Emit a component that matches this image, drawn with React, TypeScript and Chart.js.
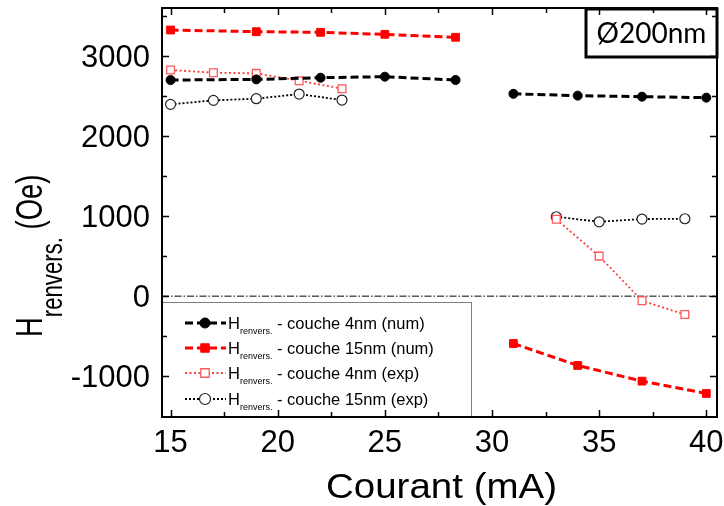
import React, { useEffect, useRef } from 'react';
import { Chart, registerables } from 'chart.js';
Chart.register(...registerables);

// ---- data ----
const seriesLabels = ['couche 4nm (num)', 'couche 15nm (num)', 'couche 4nm (exp)', 'couche 15nm (exp)'];
const currentNum = [15, 19, 22, 25, 28.3, 29.6, 31, 34, 37, 40];
const hRev4Num = [2700, 2708, 2729, 2742, 2700, null, 2528, 2505, 2492, 2480];
const hRev15Num = [3325, 3304, 3296, 3271, 3234, null, -592, -866, -1062, -1216];
const currentExp = [15, 17, 19, 21, 23, 28, 33, 35, 37, 39];
const hRev4Exp = [2825, 2792, 2783, 2692, 2592, null, 960, 500, -58, -229];
const hRev15Exp = [2396, 2446, 2467, 2525, 2450, null, 992, 929, 963, 967];
const xMajorTicks = [15, 20, 25, 30, 35, 40];
const xMinorTicks = [17.5, 22.5, 27.5, 32.5, 37.5];
const yMajorTicks = [-1000, 0, 1000, 2000, 3000];
const yMinorTicks = [-500, 500, 1500, 2500, 3500];
const xTitle = 'Courant (mA)';
const yTitleMain = 'H';
const yTitleSub = 'renvers.';
const yTitleUnit = ' (Oe)';
const annotation = 'Ø200nm';

const FONT = '"Liberation Sans", Arial, sans-serif';

const pts = (xs: number[], ys: (number | null)[]) => xs.map((x, i) => ({ x, y: ys[i] }));

const styles = [
  { color: '#000000', width: 3, dash: [8, 4], shape: 'circle', r: 4.5, fill: '#000000', pborder: '#000000', pbw: 1 },
  { color: '#ff0000', width: 3, dash: [8, 4], shape: 'rect', r: 5.5, fill: '#ff0000', pborder: '#ff0000', pbw: 1 },
  { color: '#ff3b3b', width: 1.8, dash: [2, 2.5], shape: 'rect', r: 5.5, fill: '#ffffff', pborder: '#ff5a5a', pbw: 1.3 },
  { color: '#000000', width: 1.8, dash: [2, 2], shape: 'circle', r: 5, fill: '#ffffff', pborder: '#222222', pbw: 1.2 },
];

function drawMarker(ctx: CanvasRenderingContext2D, st: any, x: number, y: number, r: number) {
  ctx.save();
  ctx.setLineDash([]);
  ctx.fillStyle = st.fill;
  ctx.strokeStyle = st.pborder;
  ctx.lineWidth = st.pbw;
  ctx.beginPath();
  if (st.shape === 'circle') {
    ctx.arc(x, y, r, 0, Math.PI * 2);
  } else {
    const s = r * Math.SQRT1_2;
    ctx.rect(x - s, y - s, 2 * s, 2 * s);
  }
  ctx.fill();
  ctx.stroke();
  ctx.restore();
}

const customPlugin = {
  id: 'customFrame',
  beforeDatasetsDraw(chart: any) {
    const { ctx, chartArea, scales } = chart;
    const y0 = scales.y.getPixelForValue(0);
    ctx.save();
    ctx.strokeStyle = '#000';
    ctx.lineWidth = 1;
    ctx.setLineDash([7, 2, 1.5, 2]);
    ctx.beginPath();
    ctx.moveTo(chartArea.left, y0);
    ctx.lineTo(chartArea.right, y0);
    ctx.stroke();
    ctx.restore();
  },
  afterDraw(chart: any) {
    const { ctx, chartArea, scales } = chart;
    const { left, right, top, bottom } = chartArea;
    const xs = scales.x;
    const ys = scales.y;
    ctx.save();

    // legend
    const lgX = left, lgY = 302, lgW = 309, lgH = bottom - 302;
    ctx.fillStyle = '#ffffff';
    ctx.fillRect(lgX, lgY, lgW, lgH);
    ctx.strokeStyle = '#808080';
    ctx.lineWidth = 1;
    ctx.strokeRect(lgX + 0.5, lgY + 0.5, lgW, lgH);
    const rows = [323, 348, 373, 399];
    seriesLabels.forEach((lab, i) => {
      const st = styles[i];
      const ry = rows[i];
      ctx.save();
      ctx.strokeStyle = st.color;
      ctx.lineWidth = st.width;
      ctx.setLineDash(st.dash);
      ctx.beginPath();
      ctx.moveTo(185, ry);
      ctx.lineTo(226, ry);
      ctx.stroke();
      ctx.restore();
      drawMarker(ctx, st, 205, ry, st.r + 0.5);
      ctx.fillStyle = '#000';
      ctx.textAlign = 'left';
      ctx.textBaseline = 'alphabetic';
      ctx.font = `16.5px ${FONT}`;
      let tx = 228;
      ctx.fillText('H', tx, ry + 6);
      tx += ctx.measureText('H').width;
      ctx.font = `9px ${FONT}`;
      ctx.fillText('renvers.', tx, ry + 11);
      tx += ctx.measureText('renvers.').width;
      ctx.font = `16.5px ${FONT}`;
      ctx.fillText(' - ' + lab, tx, ry + 6);
    });

    // frame
    ctx.strokeStyle = '#000';
    ctx.lineWidth = 2;
    ctx.setLineDash([]);
    ctx.strokeRect(left, top, right - left, bottom - top);

    const majorLen = 7, minorLen = 5;
    ctx.lineWidth = 1.5;
    const xt = (v: number, len: number) => {
      const px = Math.round(xs.getPixelForValue(v)) + 0.5;
      ctx.beginPath();
      ctx.moveTo(px, bottom); ctx.lineTo(px, bottom - len);
      ctx.moveTo(px, top); ctx.lineTo(px, top + len);
      ctx.stroke();
    };
    const yt = (v: number, len: number) => {
      const py = Math.round(ys.getPixelForValue(v)) + 0.5;
      ctx.beginPath();
      ctx.moveTo(left, py); ctx.lineTo(left + len, py);
      ctx.moveTo(right, py); ctx.lineTo(right - len, py);
      ctx.stroke();
    };
    xMajorTicks.forEach(v => xt(v, majorLen));
    xMinorTicks.forEach(v => xt(v, minorLen));
    yMajorTicks.forEach(v => yt(v, majorLen));
    yMinorTicks.forEach(v => yt(v, minorLen));

    // tick labels
    ctx.fillStyle = '#000';
    ctx.font = `31px ${FONT}`;
    ctx.textAlign = 'center';
    ctx.textBaseline = 'alphabetic';
    xMajorTicks.forEach(v => ctx.fillText(String(v), xs.getPixelForValue(v), 452));
    ctx.textAlign = 'right';
    yMajorTicks.forEach(v => ctx.fillText(String(v), left - 12, ys.getPixelForValue(v) + 11));

    // x title
    ctx.save();
    ctx.font = `35px ${FONT}`;
    ctx.textAlign = 'center';
    ctx.translate((left + right) / 2 + 2, 498);
    ctx.scale(1.1, 1);
    ctx.fillText(xTitle, 0, 0);
    ctx.restore();

    // y title
    ctx.save();
    ctx.translate(42, 337);
    ctx.rotate(-Math.PI / 2);
    ctx.scale(0.74, 1);
    ctx.textAlign = 'left';
    ctx.font = `37px ${FONT}`;
    let ytx = 0;
    ctx.fillText(yTitleMain, ytx, 0);
    ytx += ctx.measureText(yTitleMain).width;
    ctx.font = `30px ${FONT}`;
    ctx.fillText(yTitleSub, ytx, 20);
    ytx += ctx.measureText(yTitleSub).width;
    ctx.font = `37px ${FONT}`;
    ctx.fillText(yTitleUnit, ytx, 0);
    ctx.restore();

    // annotation box
    ctx.lineWidth = 3;
    ctx.strokeStyle = '#000';
    ctx.strokeRect(586, top + 1, right - 586, 48);
    ctx.font = '28px Lato, "Open Sans", sans-serif';
    ctx.textAlign = 'center';
    ctx.textBaseline = 'middle';
    ctx.fillText(annotation, (586 + right) / 2, 34);

    ctx.restore();
  },
};

export default function App() {
  const ref = useRef<HTMLCanvasElement>(null);
  useEffect(() => {
    if (!ref.current) return;
    const dataSets = [
      pts(currentNum, hRev4Num),
      pts(currentNum, hRev15Num),
      pts(currentExp, hRev4Exp),
      pts(currentExp, hRev15Exp),
    ];
    const chart = new Chart(ref.current, {
      type: 'line',
      data: {
        datasets: dataSets.map((d, i) => {
          const st = styles[i];
          return {
            label: seriesLabels[i],
            data: d,
            borderColor: st.color,
            borderWidth: st.width,
            borderDash: st.dash,
            pointStyle: st.shape,
            pointRadius: st.r,
            pointBackgroundColor: st.fill,
            pointBorderColor: st.pborder,
            pointBorderWidth: st.pbw,
            tension: 0,
            spanGaps: false,
            fill: false,
          } as any;
        }),
      },
      options: {
        animation: false,
        responsive: false,
        devicePixelRatio: 1,
        layout: { padding: { left: 162, right: 7, top: 8, bottom: 89 } },
        plugins: { legend: { display: false }, tooltip: { enabled: false } },
        scales: {
          x: { type: 'linear', min: 14.6, max: 40.5, display: false },
          y: { type: 'linear', min: -1510, max: 3600, display: false },
        },
      },
      plugins: [customPlugin],
    });
    return () => chart.destroy();
  }, []);
  return (
    <div style={{ position: 'fixed', left: 0, top: 0, width: 724, height: 506, background: '#fff' }}>
      <canvas ref={ref} width={724} height={506} style={{ width: 724, height: 506 }} />
    </div>
  );
}
